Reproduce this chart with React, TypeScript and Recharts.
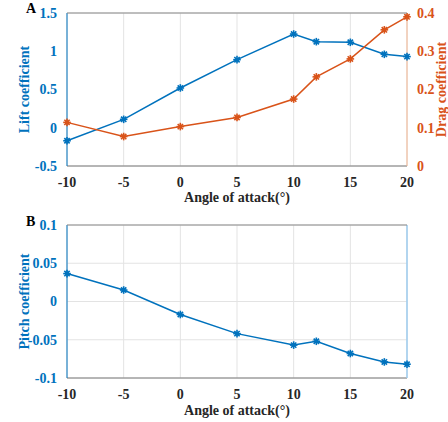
import { LineChart, Line, XAxis, YAxis, CartesianGrid } from 'recharts';

// angle of attack (deg)
const angles = [-10, -5, 0, 5, 10, 12, 15, 18, 20];
const liftCoef = [-0.17, 0.11, 0.52, 0.89, 1.225, 1.125, 1.117, 0.96, 0.93];
const dragCoef = [0.114, 0.077, 0.103, 0.127, 0.175, 0.233, 0.28, 0.356, 0.39];
const pitchCoef = [0.0365, 0.015, -0.017, -0.042, -0.057, -0.052, -0.068, -0.079, -0.082];

const xTicks = [-10, -5, 0, 5, 10, 15, 20];
const liftTicks = [-0.5, 0, 0.5, 1, 1.5];
const dragTicks = [0, 0.1, 0.2, 0.3, 0.4];
const pitchTicks = [-0.1, -0.05, 0, 0.05, 0.1];

const BLUE = '#0072BD';
const ORANGE = '#D95319';
const FONT = '"Liberation Serif", "Times New Roman", serif';

const dataA = angles.map((a, i) => ({ a, lift: liftCoef[i], drag: dragCoef[i] }));
const dataB = angles.map((a, i) => ({ a, pitch: pitchCoef[i] }));

function Star(color: string) {
    return (props: any) => {
        const { cx, cy, index } = props;
        if (cx == null || cy == null) return null;
        const r = 3.8;
        return (
            <g key={`s-${index}`} stroke={color} strokeWidth={1.6}>
                <line x1={cx - r} y1={cy} x2={cx + r} y2={cy} />
                <line x1={cx} y1={cy - r} x2={cx} y2={cy + r} />
                <line x1={cx - r * 0.7} y1={cy - r * 0.7} x2={cx + r * 0.7} y2={cy + r * 0.7} />
                <line x1={cx - r * 0.7} y1={cy + r * 0.7} x2={cx + r * 0.7} y2={cy - r * 0.7} />
                <circle cx={cx} cy={cy} r={2} fill={color} stroke="none" />
            </g>
        );
    };
}

const tickStyle = (color: string) => ({ fill: color, fontSize: 14, fontWeight: 700, fontFamily: FONT });
const labelStyle = (color: string) => ({ textAnchor: 'middle', fill: color, fontSize: 14, fontWeight: 700, fontFamily: FONT });
const fmt = (v: number) => String(v);

export default function App() {
    return (
        <div style={{ position: 'absolute', left: 0, top: 0, width: 448, height: 422, background: '#fff', fontFamily: FONT }}>
            {/* A */}
            <div style={{ position: 'absolute', left: 0, top: 0 }}>
                <LineChart width={448} height={205} data={dataA} margin={{ top: 13, right: 0, bottom: 0, left: 0 }}>
                    <CartesianGrid stroke="#e3e3e3" />
                    <XAxis
                        dataKey="a"
                        type="number"
                        domain={[-10, 20]}
                        ticks={xTicks}
                        height={39}
                        stroke="#7a7a7a"
                        tickLine={false}
                        tickMargin={5}
                        tick={tickStyle('#262626')}
                        tickFormatter={fmt}
                        label={{ value: 'Angle of attack(°)', position: 'insideBottom', offset: 3, style: labelStyle('#262626') }}
                    />
                    <YAxis
                        yAxisId="l"
                        domain={[-0.5, 1.5]}
                        ticks={liftTicks}
                        width={67}
                        stroke={BLUE}
                        tickLine={false}
                        tickMargin={4}
                        tick={tickStyle(BLUE)}
                        tickFormatter={fmt}
                        label={{ value: 'Lift coefficient', angle: -90, position: 'insideLeft', offset: 24, style: labelStyle(BLUE) }}
                    />
                    <YAxis
                        yAxisId="r"
                        orientation="right"
                        domain={[0, 0.4]}
                        ticks={dragTicks}
                        width={41}
                        stroke="#f2b48f"
                        tickLine={false}
                        tickMargin={4}
                        tick={tickStyle(ORANGE)}
                        tickFormatter={fmt}
                        label={{ value: 'Drag coefficient', angle: -90, position: 'insideRight', offset: 7, style: labelStyle(ORANGE) }}
                    />
                    <Line yAxisId="l" dataKey="lift" stroke={BLUE} strokeWidth={1.5} dot={Star(BLUE)} isAnimationActive={false} />
                    <Line yAxisId="r" dataKey="drag" stroke={ORANGE} strokeWidth={1.5} dot={Star(ORANGE)} isAnimationActive={false} />
                </LineChart>
                <svg style={{ position: 'absolute', left: 0, top: 0 }} width={448} height={20}>
                    <line x1={67} y1={13} x2={407} y2={13} stroke="#8a8a8a" strokeWidth={1} />
                    <text x={26} y={13} fontSize={14} fontWeight={700} fontFamily={FONT} fill="#000">A</text>
                </svg>
            </div>
            {/* B */}
            <div style={{ position: 'absolute', left: 0, top: 200 }}>
                <LineChart width={448} height={222} data={dataB} margin={{ top: 25, right: 0, bottom: 0, left: 0 }}>
                    <CartesianGrid stroke="#e3e3e3" />
                    <XAxis
                        dataKey="a"
                        type="number"
                        domain={[-10, 20]}
                        ticks={xTicks}
                        height={44}
                        stroke="#7a7a7a"
                        tickLine={false}
                        tickMargin={5}
                        tick={tickStyle('#262626')}
                        tickFormatter={fmt}
                        label={{ value: 'Angle of attack(°)', position: 'insideBottom', offset: 7, style: labelStyle('#262626') }}
                    />
                    <YAxis
                        domain={[-0.1, 0.1]}
                        ticks={pitchTicks}
                        width={67}
                        stroke={BLUE}
                        tickLine={false}
                        tickMargin={4}
                        tick={tickStyle(BLUE)}
                        tickFormatter={fmt}
                        label={{ value: 'Pitch coefficient', angle: -90, position: 'insideLeft', offset: 24, style: labelStyle(BLUE) }}
                    />
                    <YAxis yAxisId="r2" orientation="right" domain={[-0.1, 0.1]} ticks={pitchTicks} width={41} stroke="#9ccbee" strokeWidth={1.5} tickLine={false} tick={false} />
                    <Line dataKey="pitch" stroke={BLUE} strokeWidth={1.5} dot={Star(BLUE)} isAnimationActive={false} />
                </LineChart>
                <svg style={{ position: 'absolute', left: 0, top: 0 }} width={448} height={30}>
                    <line x1={67} y1={25} x2={407} y2={25} stroke="#8a8a8a" strokeWidth={1} />
                    <text x={26} y={26} fontSize={14} fontWeight={700} fontFamily={FONT} fill="#000">B</text>
                </svg>
            </div>
        </div>
    );
}
